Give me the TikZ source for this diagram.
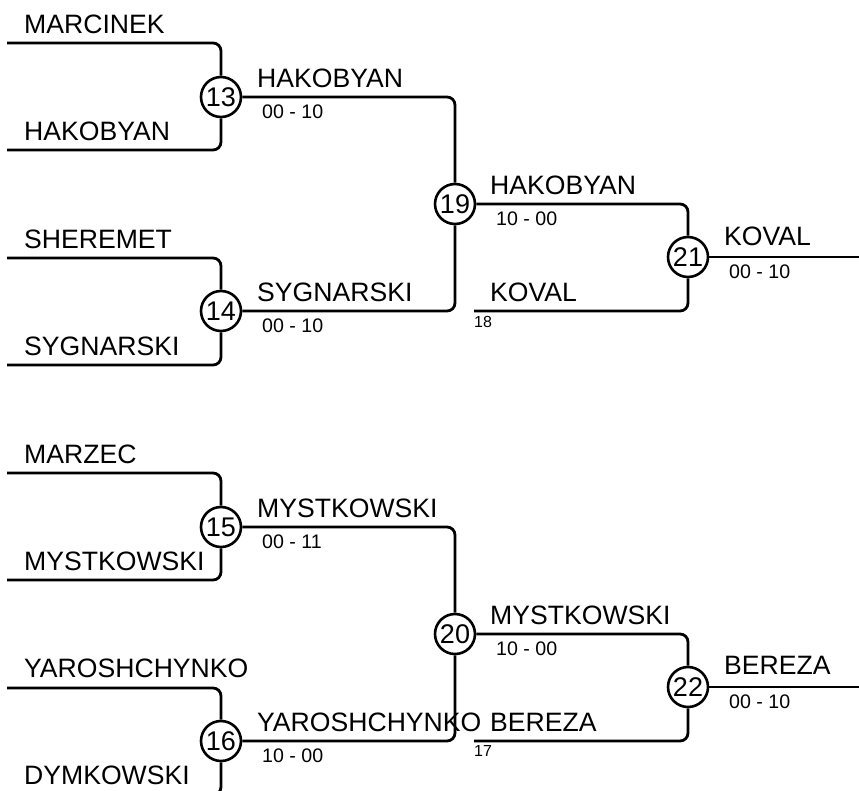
\documentclass[tikz,border=0pt]{standalone}
\usepackage{fontspec}
\setmainfont{Liberation Sans}
\usepackage{tikz}

\begin{document}
\begin{tikzpicture}[x=1pt,y=-1pt,
  bout/.style={circle,draw,line width=2.6pt,inner sep=0pt,minimum size=40pt,font=\fontsize{27}{27}\selectfont},
  player/.style={anchor=base west,inner sep=0pt,font=\fontsize{26.6}{28}\selectfont},
  score/.style={anchor=base west,inner sep=0pt,font=\fontsize{19.6}{20}\selectfont},
  seed/.style={anchor=base west,inner sep=0pt,font=\fontsize{16}{16}\selectfont},
  wire/.style={line width=2.8pt,rounded corners=8pt}]
\clip (0,0) rectangle (859,790);

% upper half
\coordinate (a1) at (7,43);
\coordinate (a2) at (7,150);
\coordinate (a3) at (7,258);
\coordinate (a4) at (7,365);
\coordinate (a18) at (474,311);
\coordinate (o21) at (860,257);
\node (m13) at (221,97) [bout] {13};
\node (m14) at (221,311) [bout] {14};
\node (m19) at (455,204) [bout] {19};
\node (m21) at (688,257) [bout] {21};
\node (t1) at (24,33) [player] {MARCINEK};
\node (t2) at (24,140) [player] {HAKOBYAN};
\node (t3) at (24,248) [player] {SHEREMET};
\node (t4) at (24,355) [player] {SYGNARSKI};
\node (w13) at (257,87) [player] {HAKOBYAN};
\node (s13) at (262,118) [score] {00 - 10};
\node (w14) at (257,301) [player] {SYGNARSKI};
\node (s14) at (262,332) [score] {00 - 10};
\node (w19) at (490,194) [player] {HAKOBYAN};
\node (s19) at (496,225) [score] {10 - 00};
\node (t18) at (490,301) [player] {KOVAL};
\node (f18) at (474,327) [seed] {18};
\node (w21) at (724,245) [player] {KOVAL};
\node (s21) at (729,278) [score] {00 - 10};
\draw[wire] (a1) -| (m13);
\draw[wire] (a2) -| (m13);
\draw[wire] (a3) -| (m14);
\draw[wire] (a4) -| (m14);
\draw[wire] (m13) -| (m19);
\draw[wire] (m14) -| (m19);
\draw[wire] (m19) -| (m21);
\draw[wire] (a18) -| (m21);
\draw[wire] (m21) -- (o21);

% lower half
\coordinate (b1) at (7,473);
\coordinate (b2) at (7,580);
\coordinate (b3) at (7,688);
\coordinate (b4) at (7,795);
\coordinate (b17) at (474,741);
\coordinate (o22) at (860,687);
\node (m15) at (221,527) [bout] {15};
\node (m16) at (221,741) [bout] {16};
\node (m20) at (455,634) [bout] {20};
\node (m22) at (688,687) [bout] {22};
\node (u1) at (24,463) [player] {MARZEC};
\node (u2) at (24,570) [player] {MYSTKOWSKI};
\node (u3) at (24,677) [player] {YAROSHCHYNKO};
\node (u4) at (24,784) [player] {DYMKOWSKI};
\node (w15) at (257,517) [player] {MYSTKOWSKI};
\node (s15) at (262,548) [score] {00 - 11};
\node (w16) at (257,731) [player] {YAROSHCHYNKO};
\node (s16) at (262,762) [score] {10 - 00};
\node (w20) at (490,624) [player] {MYSTKOWSKI};
\node (s20) at (496,655) [score] {10 - 00};
\node (t17) at (490,731) [player] {BEREZA};
\node (f17) at (474,756) [seed] {17};
\node (w22) at (724,674) [player] {BEREZA};
\node (s22) at (729,708) [score] {00 - 10};
\draw[wire] (b1) -| (m15);
\draw[wire] (b2) -| (m15);
\draw[wire] (b3) -| (m16);
\draw[wire] (b4) -| (m16);
\draw[wire] (m15) -| (m20);
\draw[wire] (m16) -| (m20);
\draw[wire] (m20) -| (m22);
\draw[wire] (b17) -| (m22);
\draw[wire] (m22) -- (o22);
\end{tikzpicture}
\end{document}
